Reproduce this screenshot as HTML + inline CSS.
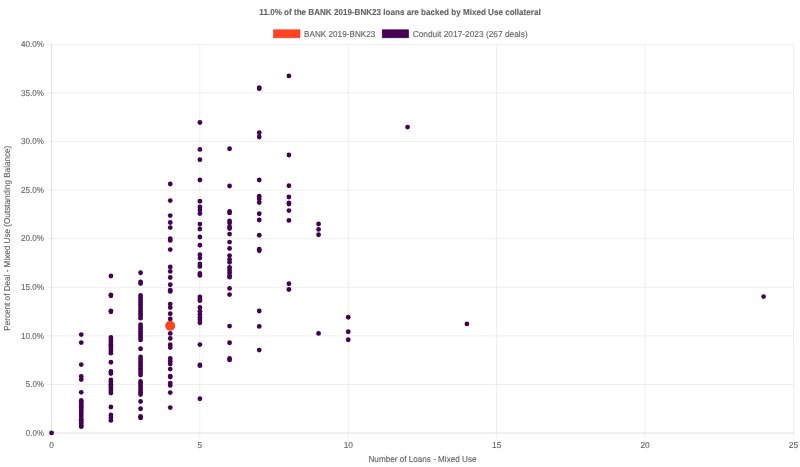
<!DOCTYPE html>
<html><head><meta charset="utf-8"><title>chart</title>
<style>
html,body{margin:0;padding:0;background:#fff;width:800px;height:467px;overflow:hidden}
svg{display:block;filter:blur(0.35px);text-rendering:geometricPrecision;font-family:"Liberation Sans",sans-serif;font-size:8px;fill:#666}
.g line{stroke:rgba(0,0,0,0.1);stroke-width:0.667}
.p circle{fill:#440154}
</style></head><body>
<svg width="800" height="467" viewBox="0 0 800 467">
<rect width="800" height="467" fill="#fff"/>
<g class="g"><line x1="51.45" y1="44.3" x2="51.45" y2="438.35"/><line x1="199.85" y1="44.3" x2="199.85" y2="438.35"/><line x1="348.30" y1="44.3" x2="348.30" y2="438.35"/><line x1="496.35" y1="44.3" x2="496.35" y2="438.35"/><line x1="645.00" y1="44.3" x2="645.00" y2="438.35"/><line x1="793.65" y1="44.3" x2="793.65" y2="438.35"/><line x1="46.2" y1="433.05" x2="793.8" y2="433.05"/><line x1="46.2" y1="384.46" x2="793.8" y2="384.46"/><line x1="46.2" y1="335.86" x2="793.8" y2="335.86"/><line x1="46.2" y1="287.27" x2="793.8" y2="287.27"/><line x1="46.2" y1="238.68" x2="793.8" y2="238.68"/><line x1="46.2" y1="190.08" x2="793.8" y2="190.08"/><line x1="46.2" y1="141.49" x2="793.8" y2="141.49"/><line x1="46.2" y1="92.89" x2="793.8" y2="92.89"/><line x1="46.2" y1="44.30" x2="793.8" y2="44.30"/><line x1="51.45" y1="44.3" x2="51.45" y2="433.05"/><line x1="51.5" y1="433.05" x2="793.5" y2="433.05"/></g>
<g transform="scale(0.666667)" font-size="13" stroke="#666" stroke-width="0.2" lengthAdjust="spacingAndGlyphs"><text x="600" y="17.4" text-anchor="middle" dominant-baseline="central" font-weight="bold" lengthAdjust="spacingAndGlyphs" textLength="422">11.0% of the BANK 2019-BNK23 loans are backed by Mixed Use collateral</text>
<rect x="410" y="44.7" width="40" height="12" fill="#FF4423" stroke="#FF4423" stroke-width="1"/>
<text x="456" y="50.85" dominant-baseline="central" lengthAdjust="spacingAndGlyphs" textLength="107">BANK 2019-BNK23</text>
<rect x="573.4" y="44.7" width="39.5" height="12" fill="#440154" stroke="#440154" stroke-width="1"/>
<text x="619" y="50.85" dominant-baseline="central" lengthAdjust="spacingAndGlyphs" textLength="172.5">Conduit 2017-2023 (267 deals)</text>
<g><text x="66" y="649.18" text-anchor="end" dominant-baseline="central" lengthAdjust="spacingAndGlyphs" textLength="27.2">0.0%</text><text x="66" y="576.28" text-anchor="end" dominant-baseline="central" lengthAdjust="spacingAndGlyphs" textLength="27.2">5.0%</text><text x="66" y="503.39" text-anchor="end" dominant-baseline="central" lengthAdjust="spacingAndGlyphs" textLength="34.6">10.0%</text><text x="66" y="430.50" text-anchor="end" dominant-baseline="central" lengthAdjust="spacingAndGlyphs" textLength="34.6">15.0%</text><text x="66" y="357.61" text-anchor="end" dominant-baseline="central" lengthAdjust="spacingAndGlyphs" textLength="34.6">20.0%</text><text x="66" y="284.72" text-anchor="end" dominant-baseline="central" lengthAdjust="spacingAndGlyphs" textLength="34.6">25.0%</text><text x="66" y="211.83" text-anchor="end" dominant-baseline="central" lengthAdjust="spacingAndGlyphs" textLength="34.6">30.0%</text><text x="66" y="138.94" text-anchor="end" dominant-baseline="central" lengthAdjust="spacingAndGlyphs" textLength="34.6">35.0%</text><text x="66" y="66.05" text-anchor="end" dominant-baseline="central" lengthAdjust="spacingAndGlyphs" textLength="34.6">40.0%</text><text x="77.25" y="668" text-anchor="middle" dominant-baseline="central" lengthAdjust="spacingAndGlyphs" textLength="7">0</text><text x="299.85" y="668" text-anchor="middle" dominant-baseline="central" lengthAdjust="spacingAndGlyphs" textLength="7">5</text><text x="522.45" y="668" text-anchor="middle" dominant-baseline="central" lengthAdjust="spacingAndGlyphs" textLength="14">10</text><text x="745.05" y="668" text-anchor="middle" dominant-baseline="central" lengthAdjust="spacingAndGlyphs" textLength="14">15</text><text x="967.65" y="668" text-anchor="middle" dominant-baseline="central" lengthAdjust="spacingAndGlyphs" textLength="14">20</text><text x="1190.25" y="668" text-anchor="middle" dominant-baseline="central" lengthAdjust="spacingAndGlyphs" textLength="14">25</text></g>
<text x="633.75" y="689" text-anchor="middle" dominant-baseline="central" lengthAdjust="spacingAndGlyphs" textLength="162">Number of Loans - Mixed Use</text>
<text transform="translate(10.2,357.3) rotate(-90)" text-anchor="middle" dominant-baseline="central" lengthAdjust="spacingAndGlyphs" textLength="277.5">Percent of Deal - Mixed Use (Outstanding Balance)</text></g>
<g class="p"><circle cx="51.57" cy="432.9" r="2.4"/><circle cx="81.24" cy="334.6" r="2.4"/><circle cx="81.24" cy="342.6" r="2.4"/><circle cx="81.24" cy="364.6" r="2.4"/><circle cx="81.24" cy="376.3" r="2.4"/><circle cx="81.24" cy="379.5" r="2.4"/><circle cx="81.24" cy="392.3" r="2.4"/><circle cx="81.24" cy="400.4" r="2.4"/><circle cx="81.24" cy="402.12" r="2.4"/><circle cx="81.24" cy="403.84" r="2.4"/><circle cx="81.24" cy="405.56" r="2.4"/><circle cx="81.24" cy="407.28" r="2.4"/><circle cx="81.24" cy="409.0" r="2.4"/><circle cx="81.24" cy="410.75" r="2.4"/><circle cx="81.24" cy="413" r="2.4"/><circle cx="81.24" cy="414.9" r="2.4"/><circle cx="81.24" cy="417.1" r="2.4"/><circle cx="81.24" cy="419.3" r="2.4"/><circle cx="81.24" cy="421.25" r="2.4"/><circle cx="81.24" cy="423.5" r="2.4"/><circle cx="81.24" cy="425.75" r="2.4"/><circle cx="81.24" cy="426.7" r="2.4"/><circle cx="110.9" cy="276" r="2.4"/><circle cx="110.9" cy="294.8" r="2.4"/><circle cx="110.9" cy="295.8" r="2.4"/><circle cx="110.9" cy="310.8" r="2.4"/><circle cx="110.9" cy="311.8" r="2.4"/><circle cx="110.9" cy="337.4" r="2.4"/><circle cx="110.9" cy="339.66" r="2.4"/><circle cx="110.9" cy="341.91" r="2.4"/><circle cx="110.9" cy="344.17" r="2.4"/><circle cx="110.9" cy="346.43" r="2.4"/><circle cx="110.9" cy="348.69" r="2.4"/><circle cx="110.9" cy="350.94" r="2.4"/><circle cx="110.9" cy="353.2" r="2.4"/><circle cx="110.9" cy="362.25" r="2.4"/><circle cx="110.9" cy="371.5" r="2.4"/><circle cx="110.9" cy="373.5" r="2.4"/><circle cx="110.9" cy="379.9" r="2.4"/><circle cx="110.9" cy="382.08" r="2.4"/><circle cx="110.9" cy="384.27" r="2.4"/><circle cx="110.9" cy="386.45" r="2.4"/><circle cx="110.9" cy="388.63" r="2.4"/><circle cx="110.9" cy="390.82" r="2.4"/><circle cx="110.9" cy="393.0" r="2.4"/><circle cx="110.9" cy="407" r="2.4"/><circle cx="110.9" cy="415.0" r="2.4"/><circle cx="110.9" cy="417.7" r="2.4"/><circle cx="110.9" cy="420.4" r="2.4"/><circle cx="140.57" cy="272.75" r="2.4"/><circle cx="140.57" cy="281.8" r="2.4"/><circle cx="140.57" cy="283.6" r="2.4"/><circle cx="140.57" cy="295.5" r="2.4"/><circle cx="140.57" cy="297.77" r="2.4"/><circle cx="140.57" cy="300.04" r="2.4"/><circle cx="140.57" cy="302.31" r="2.4"/><circle cx="140.57" cy="304.58" r="2.4"/><circle cx="140.57" cy="306.85" r="2.4"/><circle cx="140.57" cy="309.12" r="2.4"/><circle cx="140.57" cy="311.39" r="2.4"/><circle cx="140.57" cy="313.66" r="2.4"/><circle cx="140.57" cy="315.93" r="2.4"/><circle cx="140.57" cy="318.2" r="2.4"/><circle cx="140.57" cy="324.6" r="2.4"/><circle cx="140.57" cy="326.79" r="2.4"/><circle cx="140.57" cy="328.97" r="2.4"/><circle cx="140.57" cy="331.16" r="2.4"/><circle cx="140.57" cy="333.34" r="2.4"/><circle cx="140.57" cy="335.53" r="2.4"/><circle cx="140.57" cy="337.71" r="2.4"/><circle cx="140.57" cy="339.9" r="2.4"/><circle cx="140.57" cy="348.75" r="2.4"/><circle cx="140.57" cy="356.8" r="2.4"/><circle cx="140.57" cy="359.09" r="2.4"/><circle cx="140.57" cy="361.38" r="2.4"/><circle cx="140.57" cy="363.66" r="2.4"/><circle cx="140.57" cy="365.95" r="2.4"/><circle cx="140.57" cy="368.24" r="2.4"/><circle cx="140.57" cy="370.53" r="2.4"/><circle cx="140.57" cy="372.81" r="2.4"/><circle cx="140.57" cy="375.1" r="2.4"/><circle cx="140.57" cy="381.4" r="2.4"/><circle cx="140.57" cy="383.58" r="2.4"/><circle cx="140.57" cy="385.77" r="2.4"/><circle cx="140.57" cy="387.95" r="2.4"/><circle cx="140.57" cy="390.13" r="2.4"/><circle cx="140.57" cy="392.32" r="2.4"/><circle cx="140.57" cy="394.5" r="2.4"/><circle cx="140.57" cy="401.5" r="2.4"/><circle cx="140.57" cy="408.75" r="2.4"/><circle cx="140.57" cy="416.4" r="2.4"/><circle cx="140.57" cy="417.9" r="2.4"/><circle cx="170.24" cy="184" r="2.4"/><circle cx="170.24" cy="200.6" r="2.4"/><circle cx="170.24" cy="215.6" r="2.4"/><circle cx="170.24" cy="222.5" r="2.4"/><circle cx="170.24" cy="227.6" r="2.4"/><circle cx="170.24" cy="238.6" r="2.4"/><circle cx="170.24" cy="240.4" r="2.4"/><circle cx="170.24" cy="249.6" r="2.4"/><circle cx="170.24" cy="266.9" r="2.4"/><circle cx="170.24" cy="271.4" r="2.4"/><circle cx="170.24" cy="277.5" r="2.4"/><circle cx="170.24" cy="284.75" r="2.4"/><circle cx="170.24" cy="290.2" r="2.4"/><circle cx="170.24" cy="291.4" r="2.4"/><circle cx="170.24" cy="304.1" r="2.4"/><circle cx="170.24" cy="307.5" r="2.4"/><circle cx="170.24" cy="313.75" r="2.4"/><circle cx="170.24" cy="319" r="2.4"/><circle cx="170.24" cy="333.4" r="2.4"/><circle cx="170.24" cy="338.4" r="2.4"/><circle cx="170.24" cy="344.75" r="2.4"/><circle cx="170.24" cy="347.5" r="2.4"/><circle cx="170.24" cy="358.5" r="2.4"/><circle cx="170.24" cy="361.25" r="2.4"/><circle cx="170.24" cy="364" r="2.4"/><circle cx="170.24" cy="369.1" r="2.4"/><circle cx="170.24" cy="376.1" r="2.4"/><circle cx="170.24" cy="377" r="2.4"/><circle cx="170.24" cy="383.1" r="2.4"/><circle cx="170.24" cy="385.4" r="2.4"/><circle cx="170.24" cy="392.6" r="2.4"/><circle cx="170.24" cy="407.6" r="2.4"/><circle cx="199.91" cy="122.5" r="2.4"/><circle cx="199.91" cy="149.4" r="2.4"/><circle cx="199.91" cy="159.7" r="2.4"/><circle cx="199.91" cy="180" r="2.4"/><circle cx="199.91" cy="201.25" r="2.4"/><circle cx="199.91" cy="206.9" r="2.4"/><circle cx="199.91" cy="210" r="2.4"/><circle cx="199.91" cy="213.6" r="2.4"/><circle cx="199.91" cy="224.1" r="2.4"/><circle cx="199.91" cy="229" r="2.4"/><circle cx="199.91" cy="237" r="2.4"/><circle cx="199.91" cy="245.25" r="2.4"/><circle cx="199.91" cy="254.75" r="2.4"/><circle cx="199.91" cy="258.1" r="2.4"/><circle cx="199.91" cy="263.9" r="2.4"/><circle cx="199.91" cy="266.4" r="2.4"/><circle cx="199.91" cy="273.4" r="2.4"/><circle cx="199.91" cy="275.4" r="2.4"/><circle cx="199.91" cy="296.8" r="2.4"/><circle cx="199.91" cy="298.75" r="2.4"/><circle cx="199.91" cy="300.7" r="2.4"/><circle cx="199.91" cy="307.5" r="2.4"/><circle cx="199.91" cy="311.25" r="2.4"/><circle cx="199.91" cy="314.4" r="2.4"/><circle cx="199.91" cy="317.5" r="2.4"/><circle cx="199.91" cy="320" r="2.4"/><circle cx="199.91" cy="322.8" r="2.4"/><circle cx="199.91" cy="344.6" r="2.4"/><circle cx="199.91" cy="364.9" r="2.4"/><circle cx="199.91" cy="365.7" r="2.4"/><circle cx="199.91" cy="398.75" r="2.4"/><circle cx="229.57" cy="148.75" r="2.4"/><circle cx="229.57" cy="186" r="2.4"/><circle cx="229.57" cy="211.4" r="2.4"/><circle cx="229.57" cy="212.9" r="2.4"/><circle cx="229.57" cy="221" r="2.4"/><circle cx="229.57" cy="223" r="2.4"/><circle cx="229.57" cy="226.9" r="2.4"/><circle cx="229.57" cy="228.5" r="2.4"/><circle cx="229.57" cy="234.1" r="2.4"/><circle cx="229.57" cy="242.1" r="2.4"/><circle cx="229.57" cy="248.5" r="2.4"/><circle cx="229.57" cy="255.6" r="2.4"/><circle cx="229.57" cy="259.4" r="2.4"/><circle cx="229.57" cy="262.3" r="2.4"/><circle cx="229.57" cy="267.3" r="2.4"/><circle cx="229.57" cy="270" r="2.4"/><circle cx="229.57" cy="272.5" r="2.4"/><circle cx="229.57" cy="275.5" r="2.4"/><circle cx="229.57" cy="277.2" r="2.4"/><circle cx="229.57" cy="288.4" r="2.4"/><circle cx="229.57" cy="294.6" r="2.4"/><circle cx="229.57" cy="326.1" r="2.4"/><circle cx="229.57" cy="342.75" r="2.4"/><circle cx="229.57" cy="358.4" r="2.4"/><circle cx="229.57" cy="359.9" r="2.4"/><circle cx="259.24" cy="87.7" r="2.4"/><circle cx="259.24" cy="88.7" r="2.4"/><circle cx="259.24" cy="132.75" r="2.4"/><circle cx="259.24" cy="137" r="2.4"/><circle cx="259.24" cy="180" r="2.4"/><circle cx="259.24" cy="196.25" r="2.4"/><circle cx="259.24" cy="199" r="2.4"/><circle cx="259.24" cy="202.5" r="2.4"/><circle cx="259.24" cy="213.75" r="2.4"/><circle cx="259.24" cy="220" r="2.4"/><circle cx="259.24" cy="235.25" r="2.4"/><circle cx="259.24" cy="249.25" r="2.4"/><circle cx="259.24" cy="250.75" r="2.4"/><circle cx="259.24" cy="311" r="2.4"/><circle cx="259.24" cy="326.4" r="2.4"/><circle cx="259.24" cy="350.1" r="2.4"/><circle cx="288.91" cy="75.9" r="2.4"/><circle cx="288.91" cy="155" r="2.4"/><circle cx="288.91" cy="185.75" r="2.4"/><circle cx="288.91" cy="197" r="2.4"/><circle cx="288.91" cy="203" r="2.4"/><circle cx="288.91" cy="204" r="2.4"/><circle cx="288.91" cy="210.6" r="2.4"/><circle cx="288.91" cy="220.4" r="2.4"/><circle cx="288.91" cy="283.75" r="2.4"/><circle cx="288.91" cy="289.5" r="2.4"/><circle cx="318.57" cy="224" r="2.4"/><circle cx="318.57" cy="229.4" r="2.4"/><circle cx="318.57" cy="234.75" r="2.4"/><circle cx="318.57" cy="333.4" r="2.4"/><circle cx="348.24" cy="317.25" r="2.4"/><circle cx="348.24" cy="331.75" r="2.4"/><circle cx="348.24" cy="339.75" r="2.4"/><circle cx="407.57" cy="127.1" r="2.4"/><circle cx="466.91" cy="323.9" r="2.4"/><circle cx="763.58" cy="296.6" r="2.4"/></g>
<circle cx="170.2" cy="325.7" r="5" fill="#FF4423"/>
</svg>
</body></html>
